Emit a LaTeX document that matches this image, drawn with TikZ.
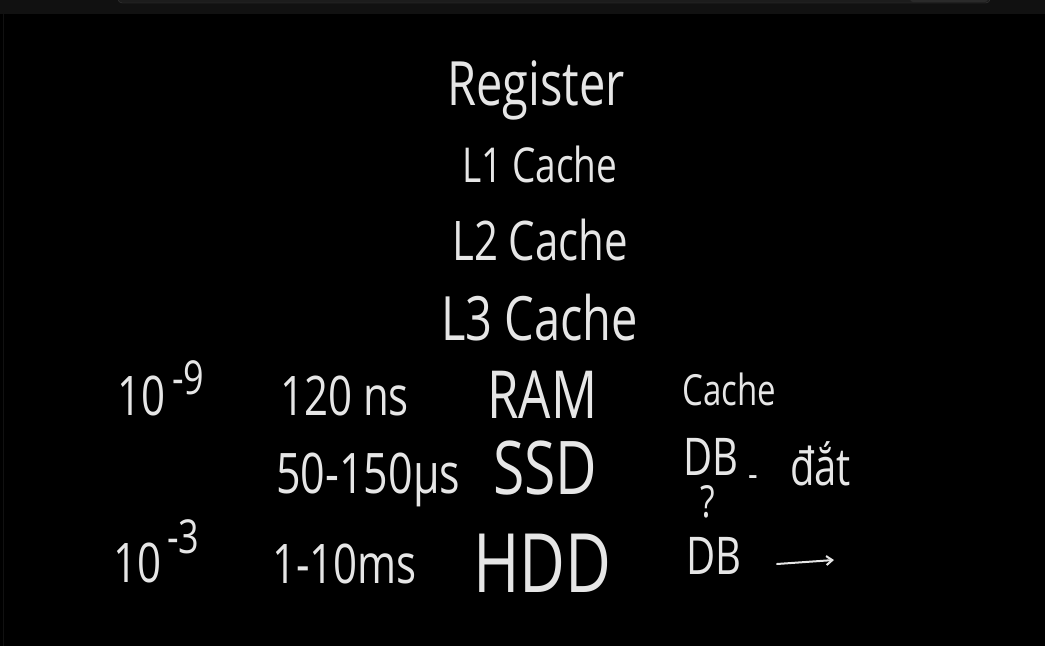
\documentclass[tikz,border=0pt]{standalone}
\usepackage{fontspec}
\usepackage{graphicx}
\setmainfont{Open Sans}
\usetikzlibrary{arrows.meta}
\definecolor{hand}{HTML}{E6E6E6}
\definecolor{bandgray}{HTML}{111111}
\definecolor{barline}{HTML}{3A3A3A}
\definecolor{barfill}{HTML}{1C1C1C}
\definecolor{barright}{HTML}{2A2A2A}
\newcommand{\vs}[1]{\scalebox{1}[1.3]{#1}}
\begin{document}
\begin{tikzpicture}[x=1pt,y=-1pt,
  hw/.style={text=hand, inner sep=0pt, anchor=base west},
  f/.style={font=\fontsize{#1}{#1}\selectfont}]
\useasboundingbox (0,0) rectangle (1045,646);
\fill[black] (0,0) rectangle (1045,646);
\fill[bandgray] (0,0) rectangle (1045,14);
\draw[barline, fill=barfill, rounded corners=4pt] (118,-10) rectangle (990,3);
\fill[barright, rounded corners=3pt] (910,-10) rectangle (988,2);
\draw[bandgray, line width=1pt] (3,14) -- (3,646);
% central column
\node[hw, f=47] (reg) at (447,105) {\vs{Register}};
\node[hw, f=37] (l1) at (462,182) {\vs{L1 Cache}};
\node[hw, f=42] (l2) at (452,260) {\vs{L2 Cache}};
\node[hw, f=47] (l3) at (441,340) {\vs{L3 Cache}};
% rows
\node[hw, f=42] (ten9) at (117,415) {\vs{10}};
\node[hw, f=36] (exp9) at (172,394) {\vs{-9}};
\node[hw, f=42] (ns) at (280,415) {\vs{120 ns}};
\node[hw, f=51] (ram) at (487,418) {\vs{RAM}};
\node[hw, f=33] (cache) at (682,405) {\vs{Cache}};
\node[hw, f=43] (us) at (276,493) {\vs{50-150µs}};
\node[hw, f=57] (ssd) at (493,494) {\vs{SSD}};
\node[hw, f=40, text depth=0pt] (db1) at (683,475) {\vs{DB}};
\node[hw, f=34, text height=33pt] (q) at (700,517) {\vs{?}};
\node[hw, f=30] (dash) at (748,487) {\vs{-}};
\node[hw, f=40] (dat) at (790,485) {\vs{đắt}};
\node[hw, f=42] (ten3) at (113,582) {\vs{10}};
\node[hw, f=36] (exp3) at (167,553) {\vs{-3}};
\node[hw, f=42] (ms) at (272,583) {\vs{1-10ms}};
\node[hw, f=63] (hdd) at (473,592) {\vs{HDD}};
\node[hw, f=40] (db2) at (686,574) {\vs{DB}};
\coordinate (a1) at (777,564);
\coordinate (a2) at (834,560);
\draw[hand, line width=2pt, line cap=round, -{Straight Barb[length=6pt,width=9pt]}] (a1) -- (a2);
\end{tikzpicture}
\end{document}
